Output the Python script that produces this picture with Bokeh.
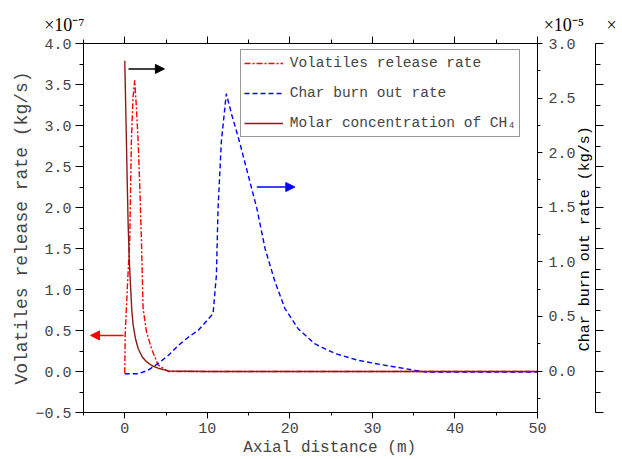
import math
from bokeh.plotting import figure
from bokeh.models import (Range1d, LinearAxis, SingleIntervalTicker,
                          CustomJSTickFormatter, Legend, LegendItem, Arrow, NormalHead, Label)
from bokeh.embed import file_html
from bokeh.resources import INLINE

# ---------------- data ----------------
# Volatiles release rate (x1e-7 kg/s), left axis
vol_x = [0, 0.05, 0.3, 0.6, 0.8, 1.0, 1.2, 1.41, 1.62, 1.82, 2.02, 2.22, 2.62, 3.23, 4.04, 5.25, 10, 20, 30, 40, 50]
vol_y = [-0.02, 0.45, 1.0, 1.6, 2.8, 3.34, 3.55, 3.22, 2.81, 2.24, 1.59, 0.77, 0.49, 0.28, 0.08, 0.0, 0.0, 0.0, 0.0, 0.0, 0.0]

# Char burn out rate (x1e-5 kg/s), right axis
char_x = [0, 1.6, 2.8, 4.0, 5.3, 6.5, 7.7, 8.9, 10.7, 11.1, 11.3, 11.7, 12.3, 12.95, 13.9, 14.95,
          16.0, 17.0, 18.2, 19.4, 21.0, 23.0, 25.5, 28.3, 31.1, 35.2, 36.5, 40, 45, 50]
char_y = [-0.025, -0.025, 0.006, 0.067, 0.144, 0.236, 0.31, 0.373, 0.526, 0.878, 1.49, 2.10, 2.54, 2.35,
          2.10, 1.795, 1.49, 1.12, 0.817, 0.572, 0.388, 0.25, 0.159, 0.098, 0.058, 0.006, -0.01, -0.01, -0.01, -0.01]

# Molar concentration of CH4 (outer right axis, labels outside the view)
ch4_x = [0, 0.1, 0.2, 0.3, 0.41, 0.55, 0.73, 0.85, 1.01, 1.3, 1.62, 2.1, 2.63, 3.3, 4.04, 5.3, 10, 20, 30, 40, 50]
ch4_y = [3.79, 3.3, 2.81, 2.3, 1.79, 1.35, 0.98, 0.75, 0.57, 0.40, 0.28, 0.18, 0.12, 0.07, 0.04, 0.007,
         0.0, 0.0, 0.0, 0.0, 0.0]

legend_labels = ["Volatiles release rate", "Char burn out rate", "Molar concentration of CH\u2084"]
char_title = "Char burn out rate (kg/s)"
scale_texts = ["\u00d710\u207b\u2077", "\u00d710\u207b\u2075", "\u00d7"]

# arrows (x_start, x_end, y) in left-axis units
arrow_black = (0.45, 4.8, 3.69)
arrow_red = (-0.15, -4.15, 0.44)
arrow_blue = (16.0, 20.6, 2.25)

FONT = "Liberation Mono"
SERIF = "Liberation Serif"
NB = "\u00a0"

# frame geometry in canvas pixels
FL, FR, FT, FB = 83.3, 536.7, 42.7, 411.7
W, H = 622, 459
X0, X1, Y0, Y1 = -5, 50, -0.5, 4.0

p = figure(width=W, height=H, x_range=Range1d(X0, X1), y_range=Range1d(Y0, Y1),
           output_backend="svg", toolbar_location=None,
           min_border_left=int(round(FL)), min_border_right=int(round(W - FR)),
           min_border_top=int(round(FT)), min_border_bottom=int(round(H - FB)))
p.extra_y_ranges = {"char": Range1d(-0.38, 3.0), "ch4": Range1d(-0.5, 4.0)}
p.outline_line_color = None
p.xgrid.visible = False
p.ygrid.visible = False
p.background_fill_color = "white"
p.border_fill_color = "white"

fmt1 = CustomJSTickFormatter(code="return tick.toFixed(1).replace('-', '\u2212');")

# bottom axis
xa = p.xaxis[0]
xa.ticker = SingleIntervalTicker(interval=10, num_minor_ticks=2)
xa.major_tick_out = 6; xa.major_tick_in = 0
xa.minor_tick_out = 3; xa.minor_tick_in = 0
xa.major_label_text_font = FONT
xa.major_label_text_font_size = "15px"
xa.major_label_standoff = 4
xa.axis_label = NB * 4 + "Axial distance (m)"
xa.axis_label_text_font = FONT
xa.axis_label_text_font_size = "16px"
xa.axis_label_text_font_style = "normal"
xa.axis_label_standoff = 3
xa.axis_line_color = "black"

# left axis
ya = p.yaxis[0]
ya.ticker = SingleIntervalTicker(interval=0.5, num_minor_ticks=2)
ya.formatter = fmt1
ya.major_tick_out = 8; ya.major_tick_in = 0
ya.minor_tick_out = 4; ya.minor_tick_in = 0
ya.major_label_text_font = FONT
ya.major_label_text_font_size = "15px"
ya.major_label_standoff = 4
ya.axis_label = "Volatiles release rate (kg/s)"
ya.axis_label_text_font = FONT
ya.axis_label_text_font_size = "18px"
ya.axis_label_text_font_style = "normal"
ya.axis_label_standoff = 0

# top axis (ticks only)
top = LinearAxis(ticker=SingleIntervalTicker(interval=10, num_minor_ticks=2),
                 major_tick_out=7, major_tick_in=0, minor_tick_out=4, minor_tick_in=0,
                 major_label_text_font_size="0px", major_label_standoff=0)
p.add_layout(top, "above")

# char axis (right, adjacent)
ca = LinearAxis(y_range_name="char", ticker=SingleIntervalTicker(interval=0.5, num_minor_ticks=2),
                formatter=fmt1, major_tick_out=5, major_tick_in=0, minor_tick_out=3, minor_tick_in=0,
                major_label_text_font=FONT, major_label_text_font_size="15px", major_label_standoff=6)
p.add_layout(ca, "right")

# char axis title as a rotated label in the right side panel (reads bottom to top)
p.add_layout(Label(x=7, y=FB - 238, x_units="screen", y_units="screen", text=char_title,
                   text_font=FONT, text_font_size="15px", angle=math.pi / 2,
                   text_align="center", text_baseline="middle", text_color="black"), "right")

# outer CH4 axis (labels outside the view)
oa = LinearAxis(y_range_name="ch4", ticker=SingleIntervalTicker(interval=0.5, num_minor_ticks=2),
                major_tick_out=8, major_tick_in=0, minor_tick_out=5, minor_tick_in=0,
                major_label_text_font_size="0px", major_label_standoff=0)
p.add_layout(oa, "right")

# lines
r_vol = p.line(vol_x, vol_y, line_color="#FF0000", line_dash="6 2 2 2", line_width=1.4)
r_char = p.line(char_x, char_y, y_range_name="char", line_color="#0000FF", line_dash="5 3", line_width=1.4)
r_ch4 = p.line(ch4_x, ch4_y, y_range_name="ch4", line_color="#8B1A1A", line_width=1.4)

legend = Legend(items=[LegendItem(label=legend_labels[0], renderers=[r_vol]),
                       LegendItem(label=legend_labels[1], renderers=[r_char]),
                       LegendItem(label=legend_labels[2], renderers=[r_ch4])],
                location=(240 - FL, FB - 137), orientation="vertical",
                border_line_color="#333333", border_line_width=1,
                background_fill_color="white", background_fill_alpha=1,
                padding=3, spacing=10, margin=0, label_height=20, glyph_height=20,
                glyph_width=39, label_standoff=7,
                label_text_font=FONT, label_text_font_size="14.5px")
p.add_layout(legend)

# arrows
for (xs, xe, yy), col in [(arrow_black, "black"), (arrow_red, "red"), (arrow_blue, "blue")]:
    p.add_layout(Arrow(end=NormalHead(size=9, fill_color=col, line_color=col, line_width=1),
                       x_start=xs, y_start=yy, x_end=xe, y_end=yy,
                       line_color=col, line_width=1.5))

# multiplier texts in one label in the top side panel
top_text = scale_texts[0] + NB * 102 + scale_texts[1] + NB * 5 + scale_texts[2]
p.add_layout(Label(x=44 - FL, y=1.5, x_units="screen", y_units="screen", text=top_text,
                   text_font=SERIF, text_font_size="18px", text_align="left",
                   text_baseline="bottom", text_color="black"), "above")

open("out.html", "w").write(file_html(p, INLINE))
